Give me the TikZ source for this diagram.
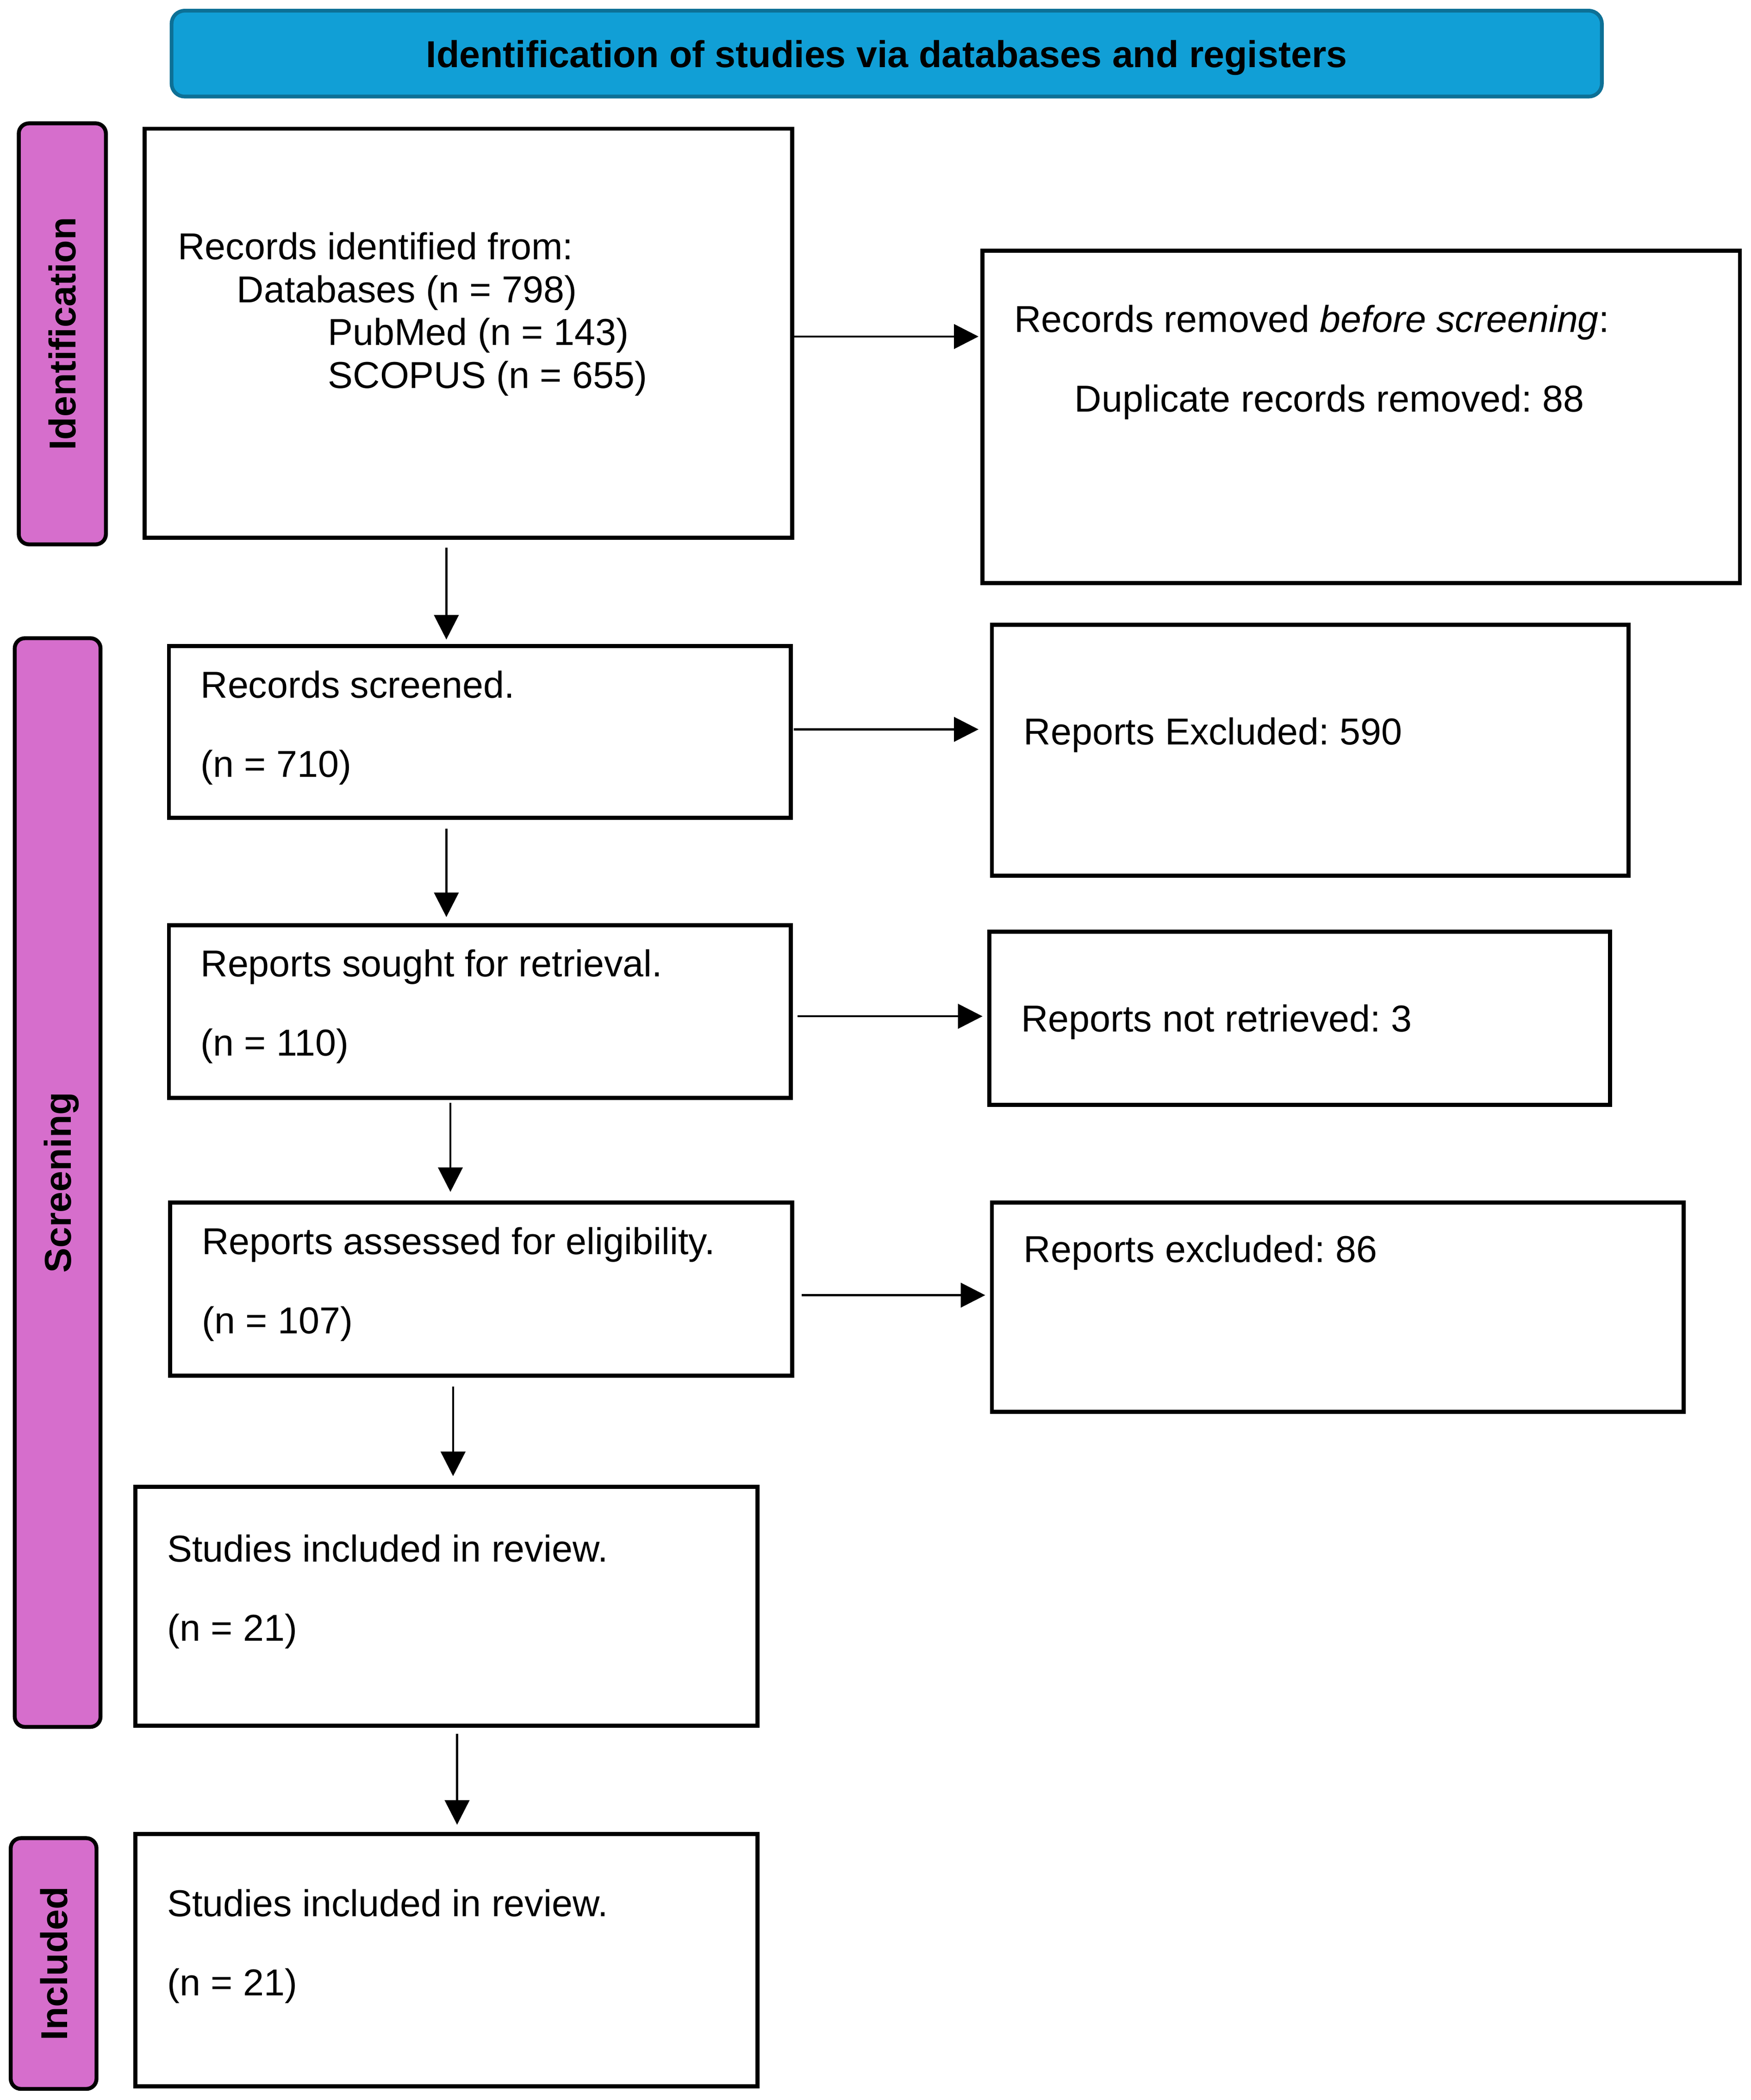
\documentclass[tikz,border=0pt]{standalone}
\usepackage{fontspec}
\setmainfont{Liberation Sans}
\usetikzlibrary{arrows.meta}
\definecolor{headblue}{RGB}{17,159,214}
\definecolor{headborder}{RGB}{13,112,150}
\definecolor{phasepink}{RGB}{214,110,204}
\newcommand{\bodyfont}{\fontsize{23}{26.45}\selectfont}
\frenchspacing
\tikzset{
  box/.style={draw=black, line width=2.5pt, fill=white, rectangle, inner sep=0pt},
  sz/.style 2 args={minimum width=#1*0.02896cm, minimum height=#2*0.02896cm},
  phase/.style={draw=black, line width=2.4pt, fill=phasepink, rounded corners=0.22cm, inner sep=0pt, rotate=90, font=\bodyfont\bfseries, text depth=0pt},
  head/.style={draw=headborder, line width=2.3pt, fill=headblue, rounded corners=0.28cm, inner sep=0pt, font=\bodyfont\bfseries, text depth=0pt},
  txt/.style={anchor=base west, inner sep=0pt, font=\bodyfont},
  arr/.style={line width=1.3pt, -{Triangle[length=0.53cm, width=0.53cm]}},
  gap/.style 2 args={shorten <=#1*0.02896cm, shorten >=#2*0.02896cm},
}
\begin{document}
\begin{tikzpicture}[x=0.02896cm, y=-0.02896cm]
\useasboundingbox (0,0) rectangle (1306,1566.3);

% header
\node[head, sz={1067}{64}] (hd) at (661.5,40) {Identification of studies via databases and registers};

% phase bars
\node[phase, sz={314}{65}] (pid) at (46.5,249) {Identification};
\node[phase, sz={812}{64}] (psc) at (43,882) {Screening};
\node[phase, sz={187}{64}] (pin) at (40,1464.5) {Included};

% boxes
\node[box, sz={483}{305}] (b1) at (349.5,248.5) {};
\node[box, sz={565}{248}] (b2) at (1015.5,311) {};
\node[box, sz={464}{128}] (b3) at (358,546) {};
\node[box, sz={475}{187}] (b4) at (977.5,559.5) {};
\node[box, sz={464}{129}] (b5) at (358,754.5) {};
\node[box, sz={463}{129}] (b6) at (969.5,759.5) {};
\node[box, sz={464}{129}] (b7) at (359,961.5) {};
\node[box, sz={516}{156}] (b8) at (998,975) {};
\node[box, sz={464}{178}] (b9) at (333,1198) {};
\node[box, sz={464}{188}] (b10) at (333,1462) {};

% texts
\node[txt] (t1a) at (132.5,193.5) {Records identified from:};
\node[txt] (t1b) at (176.5,225.5) {Databases (n = 798)};
\node[txt] (t1c) at (244.5,257.5) {PubMed (n = 143)};
\node[txt] (t1d) at (244.5,289.5) {SCOPUS (n = 655)};
\node[txt] (t2a) at (756.5,247.6) {Records removed \textit{before screening}:};
\node[txt] (t2b) at (801.5,307.3) {Duplicate records removed: 88};
\node[txt] (t3a) at (149.5,520.5) {Records screened.};
\node[txt] (t3b) at (149.5,579.5) {(n = 710)};
\node[txt] (t4) at (763.5,555.5) {Reports Excluded: 590};
\node[txt] (t5a) at (149.5,728.5) {Reports sought for retrieval.};
\node[txt] (t5b) at (149.5,787.5) {(n = 110)};
\node[txt] (t6) at (761.5,769.5) {Reports not retrieved: 3};
\node[txt] (t7a) at (150.5,935.5) {Reports assessed for eligibility.};
\node[txt] (t7b) at (150.5,994.5) {(n = 107)};
\node[txt] (t8) at (763.5,941.5) {Reports excluded: 86};
\node[txt] (t9a) at (124.5,1165) {Studies included in review.};
\node[txt] (t9b) at (124.5,1224) {(n = 21)};
\node[txt] (t10a) at (124.5,1429.5) {Studies included in review.};
\node[txt] (t10b) at (124.5,1488.5) {(n = 21)};

% arrow guide coordinates
\coordinate (v1) at (333,0);
\coordinate (v2) at (333,0);
\coordinate (v3) at (336,0);
\coordinate (v4) at (338,0);
\coordinate (v5) at (341,0);
\coordinate (h1) at (0,251);
\coordinate (h2) at (0,544);
\coordinate (h3) at (0,758);
\coordinate (h4) at (0,966);

% vertical arrows
\draw[arr, gap={6}{3.5}] (b1.south -| v1) -- (b3.north -| v1);
\draw[arr, gap={6.5}{4.5}] (b3.south -| v2) -- (b5.north -| v2);
\draw[arr, gap={2}{6.5}] (b5.south -| v3) -- (b7.north -| v3);
\draw[arr, gap={6.5}{6.5}] (b7.south -| v4) -- (b9.north -| v4);
\draw[arr, gap={4.5}{5.5}] (b9.south -| v5) -- (b10.north -| v5);

% horizontal arrows
\draw[arr, gap={0}{1.5}] (b1.east |- h1) -- (b2.west |- h1);
\draw[arr, gap={0.5}{8.5}] (b3.east |- h2) -- (b4.west |- h2);
\draw[arr, gap={3.5}{3.5}] (b5.east |- h3) -- (b6.west |- h3);
\draw[arr, gap={5.5}{3.5}] (b7.east |- h4) -- (b8.west |- h4);
\end{tikzpicture}
\end{document}
